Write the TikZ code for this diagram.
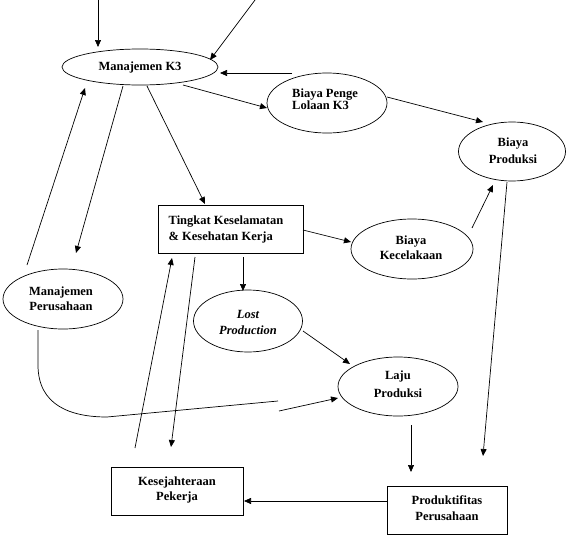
\documentclass[tikz,border=0pt]{standalone}
\usepackage{fontspec}
\setmainfont{Liberation Serif}
\usetikzlibrary{shapes.geometric,arrows.meta,calc}
\begin{document}
\begin{tikzpicture}[x=1pt,y=-1pt,
  ell/.style={draw,ellipse,inner sep=0pt,line width=0.7pt},
  boxn/.style={draw,rectangle,inner sep=0pt,line width=0.7pt},
  txt/.style={inner sep=0pt,align=center,font=\bfseries\fontsize{12.5}{16}\selectfont},
  arr/.style={line width=0.7pt,-{Triangle[length=7pt,width=6pt]}},
  ln/.style={line width=0.7pt}]
\useasboundingbox (0,0) rectangle (570,538);
% ellipses
\node[ell,minimum width=156pt,minimum height=36pt] (mk3) at (140,67) {};
\node[ell,minimum width=120pt,minimum height=60pt] (bp) at (327,103) {};
\node[ell,minimum width=107pt,minimum height=59pt] (bprod) at (512,151.5) {};
\node[ell,minimum width=122pt,minimum height=60pt] (bk) at (412,249) {};
\node[ell,minimum width=109pt,minimum height=62pt] (lp) at (248,321) {};
\node[ell,minimum width=120pt,minimum height=59pt] (laju) at (398,386.5) {};
\node[ell,minimum width=120pt,minimum height=60pt] (mp) at (63,299) {};
% boxes
\node[boxn,minimum width=145pt,minimum height=48pt] (tk) at (230.5,229) {};
\node[boxn,minimum width=132pt,minimum height=48pt] (kes) at (177,491) {};
\node[boxn,minimum width=120pt,minimum height=48pt] (prod) at (447,510) {};
% texts
\node[txt] (mk3t) at (140,67) {Manajemen K3};
\node[txt,align=left,font=\bfseries\fontsize{12.5}{12}\selectfont] (bpt) at (325,99) {Biaya Penge\\Lolaan K3};
\node[txt,font=\bfseries\fontsize{12.5}{17}\selectfont] (bprodt) at (513,151) {Biaya\\Produksi};
\node[txt,align=left] (tkt) at (226,229) {Tingkat Keselamatan\\\& Kesehatan Kerja};
\node[txt,font=\bfseries\fontsize{12.5}{15}\selectfont] (bkt) at (411,248) {Biaya\\Kecelakaan};
\node[txt,font=\bfseries\itshape\fontsize{12.5}{16}\selectfont] (lpt) at (248,322) {Lost\\Production};
\node[txt,font=\bfseries\fontsize{12.5}{18}\selectfont] (lajut) at (398,384) {Laju\\Produksi};
\node[txt] (prodt) at (447,508) {Produktifitas\\Perusahaan};
\node[txt,font=\bfseries\fontsize{12.5}{15}\selectfont] (kest) at (177,489.5) {Kesejahteraan\\Pekerja};
\node[txt,font=\bfseries\fontsize{12.5}{15}\selectfont] (mpt) at (61,298.5) {Manajemen\\Perusahaan};
% free ends
\coordinate (in1) at (98,0);
\coordinate (in2) at (255,0);
\coordinate (cv1) at (278,401);
\coordinate (cv2) at (279,411);
% connectors
\draw[arr] (in1) -- ($(mk3)+(-42,-20)$);
\draw[arr] (in2) -- ($(mk3)+(70,-7)$);
\draw[arr] ($(bp)+(-35,-30)$) -- ($(mk3)+(80,6)$);
\draw[arr] ($(mk3)+(43,18)$) -- ($(bp)+(-60,5)$);
\draw[arr] ($(bp)+(60,-6)$) -- ($(bprod)+(-29,-29.5)$);
\draw[arr] ($(mk3)+(7,19)$) -- ($(tk)+(-25.5,-25)$);
\draw[arr] ($(mp)+(-36,-34)$) -- ($(mk3)+(-55,21)$);
\draw[arr] ($(mk3)+(-17,19)$) -- ($(mp)+(13,-46)$);
\draw[arr] ($(tk)+(72.5,1)$) -- ($(bk)+(-61,-7)$);
\draw[arr] ($(bk)+(60,-21)$) -- ($(bprod)+(-19,33.5)$);
\draw[arr] ($(bprod)+(-5,30.5)$) -- ($(prod)+(36,-54)$);
\draw[arr] ($(tk)+(12.5,28)$) -- ($(lp)+(-5,-30)$);
\draw[arr] ($(lp)+(55,10)$) -- ($(laju)+(-48,-22.5)$);
\draw[arr] ($(laju)+(13,38.5)$) -- ($(prod)+(-36,-38)$);
\draw[arr] ($(prod)+(-60,-9)$) -- ($(kes)+(67,10)$);
\draw[arr] ($(kes)+(-42,-43)$) -- ($(tk)+(-58.5,29)$);
\draw[arr] ($(tk)+(-35.5,28)$) -- ($(kes)+(-6,-44)$);
\draw[ln] ($(mp)+(-25,31)$) -- ++(0,35) .. controls +(0,40) and (70,417) .. (107,417) -- (cv1);
\draw[arr] (cv2) -- ($(laju)+(-60,11.5)$);
\end{tikzpicture}
\end{document}
